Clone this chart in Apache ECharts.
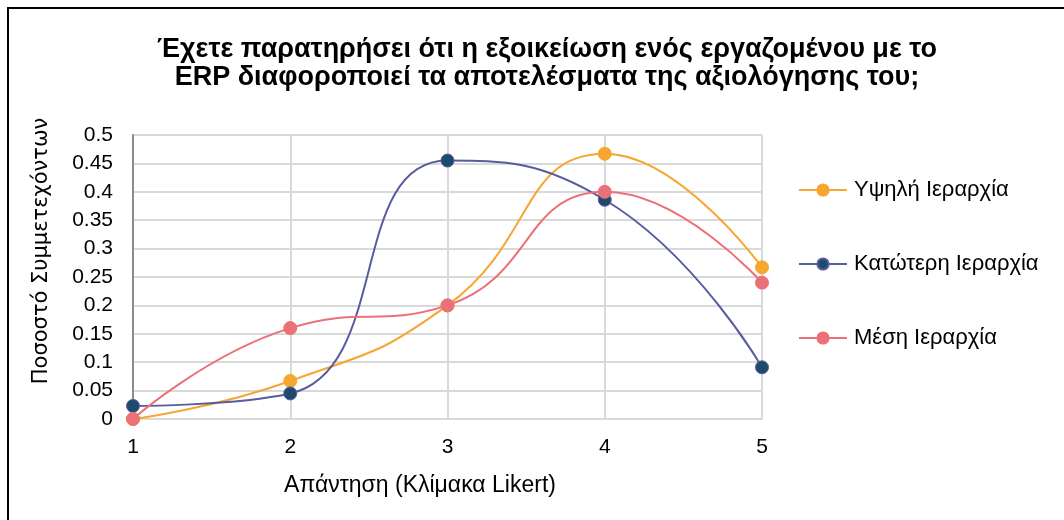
<!DOCTYPE html>
<html>
<head>
<meta charset="utf-8">
<script src="https://cdn.jsdelivr.net/npm/echarts@6/dist/echarts.min.js"></script>
<style>
  html, body { margin: 0; padding: 0; background: #fff; }
  #chart { width: 1064px; height: 520px; }
</style>
</head>
<body>
<div id="chart"></div>
<script>
// Likert scale answers (x axis)
var categories = ['1', '2', '3', '4', '5'];

// share of participants per hierarchy level
var highLevel = [0, 0.067, 0.2, 0.467, 0.267];
var lowerLevel = [0.023, 0.045, 0.455, 0.386, 0.091];
var middleLevel = [0, 0.16, 0.2, 0.4, 0.24];

var seriesNames = ['Υψηλή Ιεραρχία', 'Κατώτερη Ιεραρχία', 'Μέση Ιεραρχία'];

var titleText = 'Έχετε παρατηρήσει ότι η εξοικείωση ενός εργαζομένου με το\nERP διαφοροποιεί τα αποτελέσματα της αξιολόγησης του;';
var xName = 'Απάντηση (Κλίμακα Likert)';
var yName = 'Ποσοστό Συμμετεχόντων';

var font = '"Liberation Sans", Arial, sans-serif';

var chart = echarts.init(document.getElementById('chart'));

function lineSeries(name, data, lineColor, dotColor, borderColor) {
  return {
    name: name,
    type: 'line',
    data: data,
    smooth: 0.5,
    symbol: 'circle',
    symbolSize: 13,
    lineStyle: { color: lineColor, width: 2 },
    itemStyle: { color: dotColor, borderColor: borderColor, borderWidth: 1 }
  };
}

var option = {
  backgroundColor: '#fff',
  animation: false,
  title: {
    text: titleText,
    left: 542,
    top: 31,
    textAlign: 'center',
    textStyle: {
      fontFamily: font,
      fontSize: 27,
      fontWeight: 'bold',
      color: '#000',
      lineHeight: 28
    }
  },
  legend: {
    orient: 'vertical',
    left: 793,
    top: 174,
    itemGap: 52,
    itemWidth: 48,
    itemHeight: 14,
    data: seriesNames,
    textStyle: { fontFamily: font, fontSize: 22, color: '#000', padding: [0, 0, 0, 2] }
  },
  grid: {
    left: 133,
    right: 302,
    top: 135,
    bottom: 101
  },
  xAxis: {
    type: 'category',
    data: categories,
    boundaryGap: false,
    axisLine: { lineStyle: { color: '#d9d9d9', width: 2 } },
    axisTick: { show: false },
    axisLabel: { fontFamily: font, fontSize: 21, color: '#000', margin: 18 },
    splitLine: { show: true, lineStyle: { color: '#d9d9d9', width: 2 } }
  },
  yAxis: {
    type: 'value',
    min: 0,
    max: 0.5,
    interval: 0.05,
    axisLine: { show: true, lineStyle: { color: '#8c8c8c', width: 2 } },
    axisTick: { show: false },
    axisLabel: {
      fontFamily: font, fontSize: 21, color: '#000', margin: 20,
      formatter: function (v) { return String(+v.toFixed(2)); }
    },
    splitLine: { lineStyle: { color: '#d9d9d9', width: 2 } }
  },
  graphic: [
    // chart frame (only top and left edges visible)
    {
      type: 'polyline',
      shape: { points: [[8, 520], [8, 8], [1064, 8]] },
      style: { stroke: '#000', lineWidth: 2, fill: null }
    },
    {
      type: 'text',
      x: 42,
      y: 251,
      rotation: Math.PI / 2,
      style: {
        text: yName,
        font: '21px "DejaVu Sans", sans-serif',
        fill: '#000',
        align: 'center',
        verticalAlign: 'middle'
      }
    },
    {
      type: 'text',
      x: 420,
      y: 486,
      style: {
        text: xName,
        font: '23px ' + font,
        fill: '#000',
        align: 'center',
        verticalAlign: 'middle'
      }
    }
  ],
  series: [
    lineSeries(seriesNames[0], highLevel, '#f5a72f', '#f5a72f', '#f5a72f'),
    lineSeries(seriesNames[1], lowerLevel, '#575c9f', '#1e4a6b', '#575c9f'),
    lineSeries(seriesNames[2], middleLevel, '#ec7077', '#ec7077', '#ec7077')
  ]
};

chart.setOption(option);
</script>
</body>
</html>
